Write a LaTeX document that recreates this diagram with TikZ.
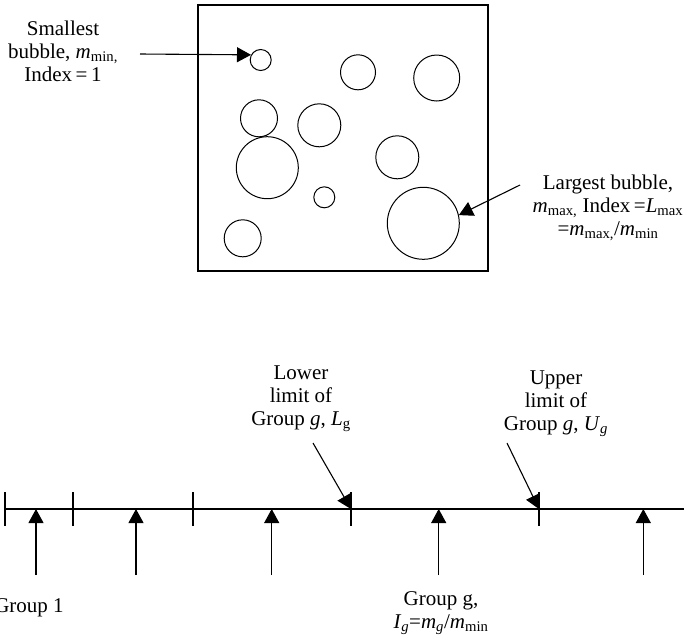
\documentclass[tikz,border=0pt]{standalone}
\usepackage{fontspec}
\setmainfont{Liberation Serif}
\usetikzlibrary{arrows.meta,positioning}
\newcommand{\vi}[1]{\textit{#1}}
\newcommand{\sub}[1]{\textsubscript{#1}}

\begin{document}
\begin{tikzpicture}[
  x=1pt,
  y=-1pt,
  line width=1.1pt,
  bub/.style={circle, draw, inner sep=0pt, line width=1pt},
  lbl/.style={inner sep=0pt, align=center, font=\fontsize{21}{23}\selectfont},
  pointer/.style={-{Triangle[length=14pt,width=15pt]}, line width=1.1pt},
  tickmark/.style={line width=1.1pt}
]
\useasboundingbox (0,0) rectangle (684,641);

% vessel with bubbles
\node[draw, line width=1.1pt, minimum width=290pt, minimum height=266pt, inner sep=0pt] (tank) at (343,138) {};
\node[bub, minimum size=21pt] (bub1) at (260.7,60) {};
\node[bub, minimum size=35pt] (bub2) at (358,72.3) {};
\node[bub, minimum size=46pt] (bub3) at (436.7,78) {};
\node[bub, minimum size=37pt] (bub4) at (259,118.3) {};
\node[bub, minimum size=43pt] (bub5) at (319.3,125.3) {};
\node[bub, minimum size=62pt] (bub6) at (267.3,167.7) {};
\node[bub, minimum size=43pt] (bub7) at (397.3,157.3) {};
\node[bub, minimum size=21pt] (bub8) at (324.3,197.3) {};
\node[bub, minimum size=72pt] (bub9) at (423.3,223.3) {};
\node[bub, minimum size=37pt] (bub10) at (242.7,238.3) {};

\node[lbl] (smallest) at (63,51) {Smallest\\bubble, \vi{m}\sub{min,}\\Index\,=\,1};
\coordinate (smallfrom) at (140,54);
\draw[pointer] (smallfrom) -- (bub1.152);

\node[lbl] (largest) at (608,207.5) {Largest bubble,\\\vi{m}\sub{max,} Index\,=\vi{L}\sub{max}\\=\vi{m}\sub{max,}/\vi{m}\sub{min}};
\coordinate (largefrom) at (520,185);
\draw[pointer] (largefrom) -- (bub9.13);

% size axis
\coordinate (axstart) at (5,509);
\coordinate (axend) at (684,509);
\draw (axstart) -- (axend);
\coordinate (t1) at (5,509);
\coordinate (t2) at (73,509);
\coordinate (t3) at (193,509);
\coordinate (t4) at (351,509);
\coordinate (t5) at (539,509);
\foreach \t in {t1,t2,t3,t4,t5}
  \draw[tickmark] ([yshift=17pt]\t) -- ([yshift=-17pt]\t);

\foreach \i/\x in {1/36,2/136,3/271.7,4/438.7,5/643.3}{
  \coordinate (c\i) at (\x,509);
  \coordinate (b\i) at (\x,575);
  \draw[pointer] (b\i) -- (c\i);
}

\node[lbl] (lower) at (301,399) {Lower\\limit of\\Group \vi{g}, \vi{L}\sub{g}};
\coordinate (lowfrom) at (313,443);
\draw[pointer] (lowfrom) -- (t4);

\node[lbl] (upper) at (556,404) {Upper\\limit of\\Group \vi{g}, \vi{U}\sub{\vi{g}}};
\coordinate (upfrom) at (507,443);
\draw[pointer] (upfrom) -- (t5);

\node[lbl] (group1) at (29,608) {Group 1};
\node[lbl] (groupg) at (441,613) {Group g,\\\vi{I}\sub{\vi{g}}=\vi{m}\sub{\vi{g}}/\vi{m}\sub{min}};
\end{tikzpicture}
\end{document}
